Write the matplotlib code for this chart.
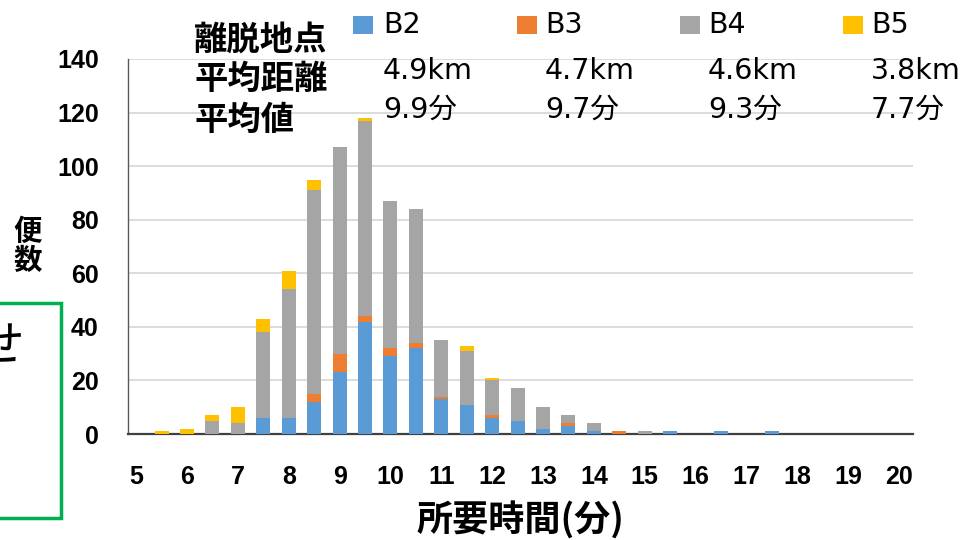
import matplotlib
matplotlib.use('Agg')
import matplotlib.pyplot as plt
from matplotlib.patches import Rectangle
import numpy as np

plt.rcParams['font.family'] = ['Liberation Sans', 'Noto Sans CJK JP', 'DejaVu Sans']

W, H = 969, 540

# 所要時間 (0.5分刻み)
minutes = np.arange(5.0, 20.01, 0.5)

# 離脱地点別の便数
b2 = [0, 0, 0, 0, 0, 6, 6, 12, 23, 42, 29, 32, 13, 11, 6, 5, 2, 3, 1, 0, 0, 1, 0, 1, 0, 1, 0, 0, 0, 0, 0]
b3 = [0, 0, 0, 0, 0, 0, 0, 3, 7, 2, 3, 2, 1, 0, 1, 0, 0, 1, 0, 1, 0, 0, 0, 0, 0, 0, 0, 0, 0, 0, 0]
b4 = [0, 0, 0, 5, 4, 32, 48, 76, 77, 73, 55, 50, 21, 20, 13, 12, 8, 3, 3, 0, 1, 0, 0, 0, 0, 0, 0, 0, 0, 0, 0]
b5 = [0, 1, 2, 2, 6, 5, 7, 4, 0, 1, 0, 0, 0, 2, 1, 0, 0, 0, 0, 0, 0, 0, 0, 0, 0, 0, 0, 0, 0, 0, 0]

series = ['B2', 'B3', 'B4', 'B5']
avg_dist = ['4.9km', '4.7km', '4.6km', '3.8km']
avg_time = ['9.9分', '9.7分', '9.3分', '7.7分']
colors = ['#5B9BD5', '#ED7D31', '#A5A5A5', '#FFC000']

xticks = np.arange(5, 21)
yticks = np.arange(0, 141, 20)


def fx(px):
    return px / W


def fy(py):
    return 1 - py / H


fig = plt.figure(figsize=(W / 100, H / 100), dpi=100)
ax = fig.add_axes([fx(128), fy(434), fx(913) - fx(128), fy(59) - fy(434)])

bottom = np.zeros(len(minutes))
for vals, c in zip([b2, b3, b4, b5], colors):
    ax.bar(minutes, vals, width=0.275, bottom=bottom, color=c, linewidth=0, zorder=3)
    bottom += np.array(vals)

ax.set_xlim(4.84, 20.275)
ax.set_ylim(0, 140)
ax.set_xticks(xticks)
ax.set_yticks(yticks)
ax.set_xticklabels([str(t) for t in xticks], fontsize=18, fontweight='bold')
ax.set_yticklabels([str(t) for t in yticks], fontsize=18, fontweight='bold')
ax.tick_params(axis='x', length=0, pad=22)
ax.tick_params(axis='y', length=0, pad=21)
ax.yaxis.grid(True, color='#D9D9D9', linewidth=1.3, zorder=0)
ax.set_axisbelow(True)
for s in ['top', 'right']:
    ax.spines[s].set_visible(False)
ax.spines['left'].set_color('#595959')
ax.spines['left'].set_linewidth(1.0)
ax.spines['bottom'].set_color('#404040')
ax.spines['bottom'].set_linewidth(1.6)

# 軸ラベル
fig.text(fx(520), fy(521), '所要時間(分)', fontsize=26, fontweight='bold',
         ha='center', va='center', family=['Noto Sans CJK JP'])
fig.text(fx(28), fy(246), '便\n数', fontsize=20.5, fontweight='bold',
         ha='center', va='center', linespacing=1.05, family=['Noto Sans CJK JP'])

# 凡例と平均の表
row_y = [40, 79, 120]
for t, y in zip(['離脱地点', '平均距離', '平均値'], row_y):
    fig.text(fx(194), fy(y), t, fontsize=24, fontweight='bold',
             ha='left', va='center', family=['Noto Sans CJK JP'])

sq_x = [363, 527, 690, 853]
txt_x = [383, 545, 708, 871]
for name, d, m, c, sx, tx in zip(series, avg_dist, avg_time, colors, sq_x, txt_x):
    fig.add_artist(Rectangle((fx(sx - 10), fy(34)), 20 / W, 18 / H,
                             transform=fig.transFigure, color=c, linewidth=0))
    fig.text(fx(tx), fy(25), name, fontsize=20.5, ha='left', va='center',
             family=['DejaVu Sans', 'Noto Sans CJK JP'])
    fig.text(fx(tx), fy(71), d, fontsize=20.5, ha='left', va='center',
             family=['DejaVu Sans', 'Noto Sans CJK JP'])
    fig.text(fx(tx), fy(110), m, fontsize=20.5, ha='left', va='center',
             family=['DejaVu Sans', 'Noto Sans CJK JP'])

# 左側の枠 (左端ははみ出している)
fig.add_artist(Rectangle((fx(-20), fy(518)), 81 / W, 215 / H, transform=fig.transFigure,
                         fill=False, edgecolor='#00B050', linewidth=2.5))
fig.text(fx(-24), fy(347), 'せ', fontsize=35, ha='left', va='center',
         family=['Noto Sans CJK JP'])

fig.savefig('out.png', dpi=100)
